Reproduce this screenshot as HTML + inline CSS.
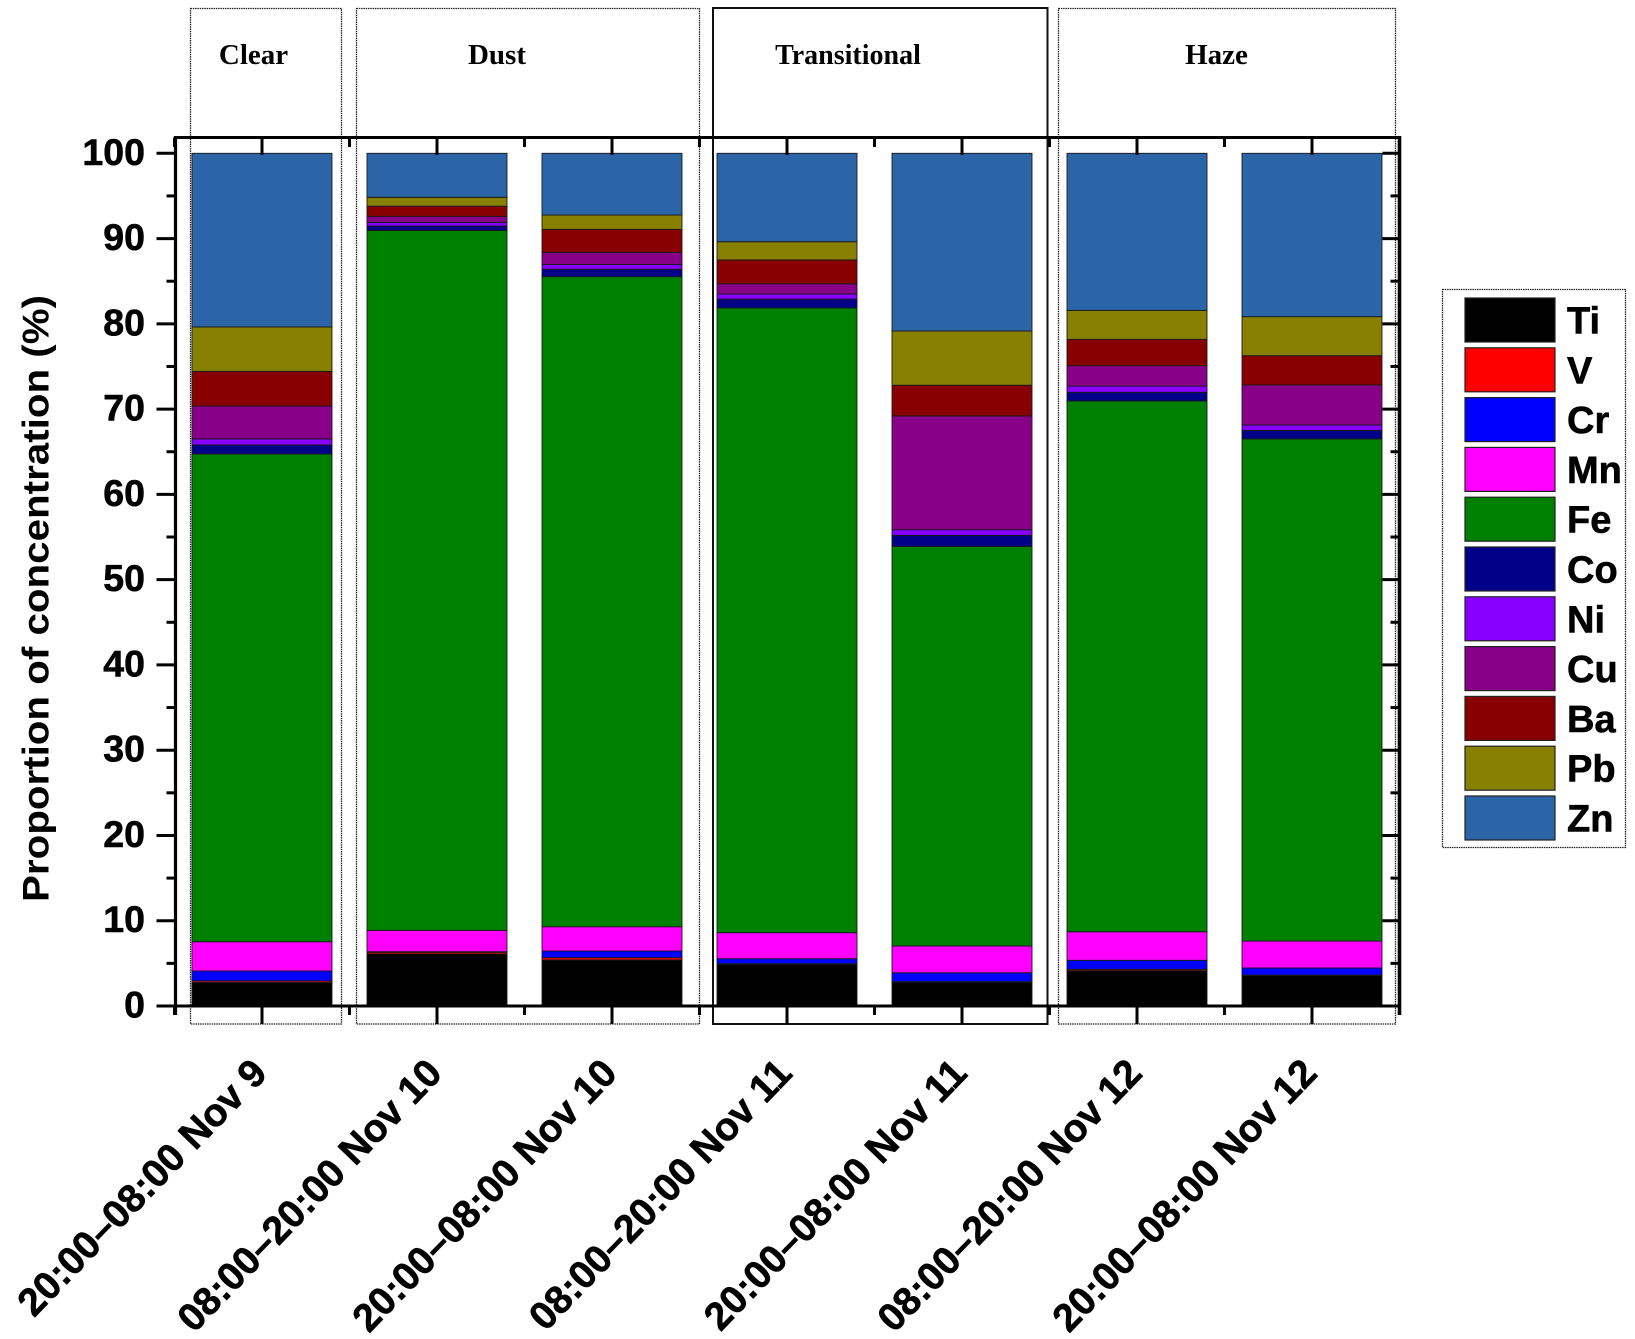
<!DOCTYPE html>
<html>
<head>
<meta charset="utf-8">
<title>Proportion of concentration</title>
<style>
html,body{margin:0;padding:0;background:#fff;}
svg{display:block;}
text{fill:#000;}
.sans{font-family:"Liberation Sans",sans-serif;font-weight:bold;}
.heavy{stroke:#000;stroke-width:0.6px;}
.serif{font-family:"Liberation Serif",serif;font-weight:bold;}
</style>
</head>
<body>
<svg id="chart" xmlns="http://www.w3.org/2000/svg" width="1635" height="1339" viewBox="0 0 1635 1339">
  <rect x="0" y="0" width="1635" height="1339" fill="#fff"/>
  <g id="regions">
    <rect x="190.5" y="8.5" width="151" height="1015.5" fill="none" stroke="#222" stroke-width="1.3" stroke-dasharray="1.5 0.8"/>
    <rect x="356.5" y="8.5" width="343" height="1015.5" fill="none" stroke="#222" stroke-width="1.3" stroke-dasharray="1.5 0.8"/>
    <rect x="713" y="8" width="334.5" height="1016" fill="none" stroke="#111" stroke-width="2"/>
    <rect x="1058.5" y="8.5" width="337" height="1015.5" fill="none" stroke="#222" stroke-width="1.3" stroke-dasharray="1.5 0.8"/>
    <text class="serif" x="253.5" y="64" font-size="29" text-anchor="middle">Clear</text>
    <text class="serif" x="497" y="64" font-size="29" text-anchor="middle">Dust</text>
    <text class="serif" x="848" y="64" font-size="28" text-anchor="middle">Transitional</text>
    <text class="serif" x="1216.5" y="64" font-size="29" text-anchor="middle">Haze</text>
  </g>
  <g id="bars"></g>
  <g id="axes"></g>
  <text class="sans" transform="translate(48.5,598.5) rotate(-90)" font-size="37" text-anchor="middle" textLength="607" lengthAdjust="spacingAndGlyphs">Proportion of concentration (%)</text>
  <g id="legend">
    <rect x="1442.5" y="289.5" width="183" height="558" fill="#fff" stroke="#222" stroke-width="1.3" stroke-dasharray="1.5 0.8"/>
  </g>
</svg>
<script>
const categories = ["20:00–08:00 Nov 9","08:00–20:00 Nov 10","20:00–08:00 Nov 10","08:00–20:00 Nov 11","20:00–08:00 Nov 11","08:00–20:00 Nov 12","20:00–08:00 Nov 12"];
const seriesNames = ["Ti","V","Cr","Mn","Fe","Co","Ni","Cu","Ba","Pb","Zn"];
const seriesColors = ["#000000","#ff0000","#0000ff","#ff00ff","#008000","#000088","#8800ff","#880088","#880000","#888000","#2b65a8"];
const ti = [2.75,6.1,5.4,4.9,2.8,4.15,3.58];
const v  = [0.18,0.2,0.27,0.06,0.05,0.15,0.05];
const cr = [1.17,0.07,0.78,0.59,1.05,1.06,0.83];
const mn = [3.44,2.5,2.85,3.05,3.14,3.35,3.16];
const fe = [57.19,82.08,76.23,73.26,46.86,62.24,58.88];
const co = [1.07,0.52,0.87,1.04,1.3,1.02,1.0];
const ni = [0.7,0.43,0.57,0.6,0.66,0.73,0.64];
const cu = [3.86,0.7,1.41,1.2,13.34,2.4,4.69];
const ba = [4.07,1.2,2.7,2.8,3.6,3.08,3.44];
const pb = [5.2,1.04,1.68,2.13,6.36,3.4,4.57];
const zn = [20.37,5.16,7.24,10.37,20.84,18.42,19.16];
const seriesValues = [ti,v,cr,mn,fe,co,ni,cu,ba,pb,zn];
const yTickLabels = ["0","10","20","30","40","50","60","70","80","90","100"];
const yMinorTicks = [5,15,25,35,45,55,65,75,85,95];

const NS = "http://www.w3.org/2000/svg";
const plotBottom = 1006, plotTop = 153.3, firstCenter = 262, step = 175, barWidth = 140;
function yScale(val){ return plotBottom - (plotBottom - plotTop) * val / 100; }
function xScale(i){ return firstCenter + step * i; }
function make(tag, attrs, parent){
  const el = document.createElementNS(NS, tag);
  for (const k in attrs) el.setAttribute(k, attrs[k]);
  parent.appendChild(el);
  return el;
}
const barsGroup = document.getElementById("bars");
const axesGroup = document.getElementById("axes");
const legendGroup = document.getElementById("legend");

categories.forEach(function(cat, i){
  let cum = 0;
  seriesNames.forEach(function(name, s){
    const val = seriesValues[s][i];
    const y1 = yScale(cum);
    const y2 = yScale(cum + val);
    const seg = make("rect", {x: xScale(i) - barWidth / 2, y: y2, width: barWidth, height: y1 - y2, fill: seriesColors[s], stroke: "#1a1a1a", "stroke-width": 0.9}, barsGroup);
    
    
    cum += val;
  });
});

function axisLine(x1, y1, x2, y2, w){
  const ln = make("line", {x1: x1, y1: y1, x2: x2, y2: y2, stroke: "#000", "stroke-width": w}, axesGroup);
  
  
  return ln;
}
function tickLine(x1, y1, x2, y2, w){
  const ln = make("line", {x1: x1, y1: y1, x2: x2, y2: y2, stroke: "#000", "stroke-width": w}, axesGroup);
  
  
  return ln;
}
const axisLeft = 175.5, axisRight = 1399.5, axisTop = 137.5;
axisLine(axisLeft, axisTop - 1.5, axisLeft, 1015, 3.2);
axisLine(axisRight, axisTop - 1.5, axisRight, 1015, 3.6);
axisLine(axisLeft - 1, axisTop, axisRight + 1, axisTop, 3);
axisLine(axisLeft - 1, plotBottom, axisRight + 1, plotBottom, 3);

yTickLabels.forEach(function(lab){
  const val = Number(lab);
  const y = yScale(val);
  tickLine(axisLeft - 19, y, axisLeft, y, 3);
  tickLine(axisRight - 17, y, axisRight, y, 3);
  const t = make("text", {x: 145, y: y + 11.5, "font-size": 37.5, "text-anchor": "end", "class": "sans heavy"}, axesGroup);
  
  
  t.textContent = lab;
});
yMinorTicks.forEach(function(val){
  const y = yScale(val);
  tickLine(axisLeft - 9, y, axisLeft, y, 3);
  tickLine(axisRight - 9, y, axisRight, y, 3);
});
categories.forEach(function(cat, i){
  const x = xScale(i);
  tickLine(x, plotBottom, x, 1024, 3);
  tickLine(x, axisTop, x, 155, 3);
  const t = make("text", {transform: "translate(" + (x + 7) + ",1075) rotate(-46)", "font-size": 39, "text-anchor": "end", "class": "sans heavy"}, axesGroup);
  
  
  t.textContent = cat;
});
for (let i = 0; i <= categories.length; i++) {
  const x = xScale(i - 0.5);
  tickLine(x, plotBottom, x, 1015, 3);
  tickLine(x, axisTop, x, 147, 3);
}

seriesNames.forEach(function(name, s){
  const top = 298 + 49.8 * s;
  const sw = make("rect", {x: 1465, y: top, width: 90, height: 44, fill: seriesColors[s], stroke: "#222", "stroke-width": 1.2}, legendGroup);
  
  
  const t = make("text", {x: 1567, y: top + 35.5, "font-size": 38, "class": "sans heavy"}, legendGroup);
  
  
  t.textContent = name;
});
</script>
</body>
</html>
